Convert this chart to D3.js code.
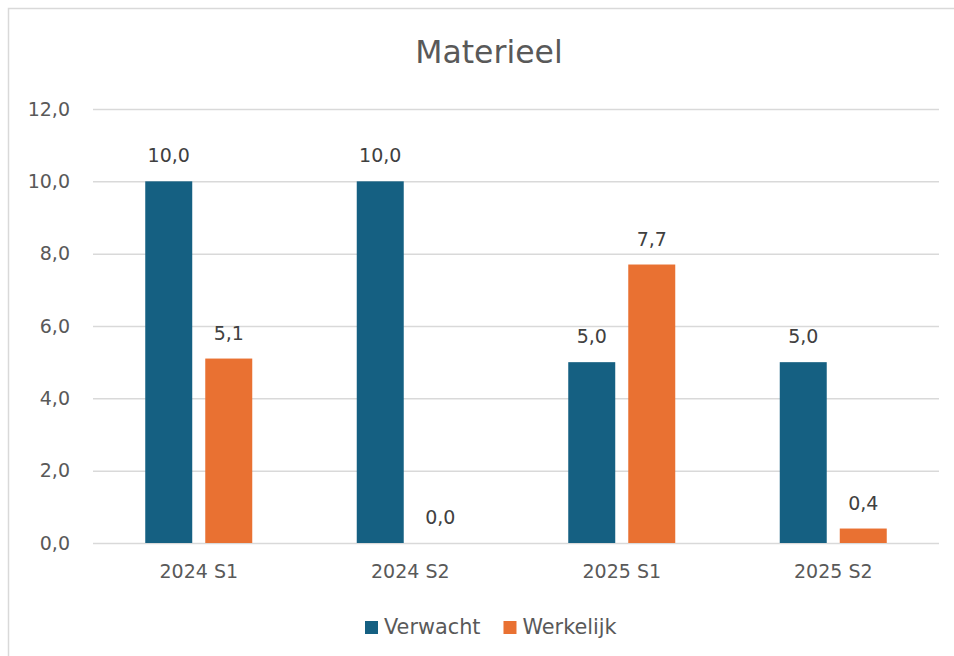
<!DOCTYPE html>
<html>
<head>
<meta charset="utf-8">
<script src="https://cdn.jsdelivr.net/npm/d3@7"></script>
<style>
  body { margin: 0; background: #fff; }
  text { font-family: "DejaVu Sans", sans-serif; }
</style>
</head>
<body>
<div id="chart"></div>
<script>
// chart data
var categories = ["2024 S1", "2024 S2", "2025 S1", "2025 S2"];
var seriesNames = ["Verwacht", "Werkelijk"];
var verwacht = [10.0, 10.0, 5.0, 5.0];
var werkelijk = [5.1, 0.0, 7.7, 0.4];
var yTicks = [0, 2, 4, 6, 8, 10, 12];
var colors = ["#156082", "#E97132"];

var W = 954, H = 656;
var margin = {top: 109, right: 15, bottom: 113, left: 93},
    width = 939 - margin.left,
    height = 543 - margin.top;

var svg = d3.select("#chart").append("svg")
    .attr("width", W)
    .attr("height", H);

// chart frame (runs off the right/bottom like the original)
svg.append("rect")
    .attr("x", 8.5).attr("y", 8.5)
    .attr("width", 980).attr("height", 700)
    .attr("fill", "none")
    .attr("stroke", "#d9d9d9")
    .attr("stroke-width", 1.5);

// title
svg.append("text")
    .attr("x", 489)
    .attr("y", 63)
    .attr("text-anchor", "middle")
    .attr("fill", "#595959")
    .style("font-size", "31.5px")
    .text("Materieel");

var g = svg.append("g")
    .attr("transform", "translate(" + margin.left + "," + margin.top + ")");

var x0 = d3.scaleBand().domain(categories).range([0, width]).padding(0);
var y = d3.scaleLinear().domain([0, 12]).range([height, 0]);
var x1 = d3.scaleBand().domain(seriesNames)
    .range([x0.bandwidth() / 2 - 53.5, x0.bandwidth() / 2 + 53.5])
    .paddingInner(0.217);

// gridlines
g.append("g")
    .attr("class", "grid")
    .call(d3.axisLeft(y).tickValues(yTicks).tickSize(-width).tickFormat(""))
    .call(function(s) {
        s.select(".domain").remove();
        s.selectAll("line").attr("stroke", "#d9d9d9").attr("stroke-width", 1.5);
    });

// y axis labels
var fmt = function(d) { return d3.format(".1f")(d).replace(".", ","); };
g.append("g")
    .call(d3.axisLeft(y).tickValues(yTicks).tickSize(0).tickPadding(23).tickFormat(fmt))
    .call(function(s) {
        s.select(".domain").remove();
        s.selectAll("text")
            .attr("fill", "#595959")
            .style("font-size", "19px")
            .style("font-family", "DejaVu Sans, sans-serif");
    });

// x axis labels
g.append("g")
    .attr("transform", "translate(0," + height + ")")
    .call(d3.axisBottom(x0).tickSize(0).tickPadding(22))
    .call(function(s) {
        s.select(".domain").remove();
        s.selectAll("text")
            .attr("fill", "#595959")
            .style("font-size", "19px")
            .style("font-family", "DejaVu Sans, sans-serif");
    });

var rows = categories.map(function(c, i) {
    return {cat: c, values: [
        {key: seriesNames[0], value: verwacht[i]},
        {key: seriesNames[1], value: werkelijk[i]}
    ]};
});

var groups = g.selectAll(".grp")
    .data(rows)
    .enter().append("g")
    .attr("class", "grp")
    .attr("transform", function(d) { return "translate(" + x0(d.cat) + ",0)"; });

groups.selectAll("rect")
    .data(function(d) { return d.values; })
    .enter().append("rect")
    .attr("x", function(d) { return x1(d.key); })
    .attr("y", function(d) { return y(d.value); })
    .attr("width", x1.bandwidth())
    .attr("height", function(d) { return height - y(d.value); })
    .attr("fill", function(d, i) { return colors[i]; });

groups.selectAll(".lbl")
    .data(function(d) { return d.values; })
    .enter().append("text")
    .attr("class", "lbl")
    .attr("x", function(d) { return x1(d.key) + x1.bandwidth() / 2; })
    .attr("y", function(d) { return y(d.value) - 19; })
    .attr("text-anchor", "middle")
    .attr("fill", "#404040")
    .style("font-size", "19px")
    .text(function(d) { return fmt(d.value); });

// legend
var legend = svg.append("g").attr("transform", "translate(0,621)");
var lx = 365;
seriesNames.forEach(function(name, i) {
    legend.append("rect")
        .attr("x", lx).attr("y", 0)
        .attr("width", 13).attr("height", 13)
        .attr("fill", colors[i]);
    var t = legend.append("text")
        .attr("x", lx + 19)
        .attr("y", 13)
        .attr("fill", "#595959")
        .style("font-size", "20.8px")
        .text(name);
    lx += 19 + t.node().getComputedTextLength() + 23;
});
</script>
</body>
</html>
